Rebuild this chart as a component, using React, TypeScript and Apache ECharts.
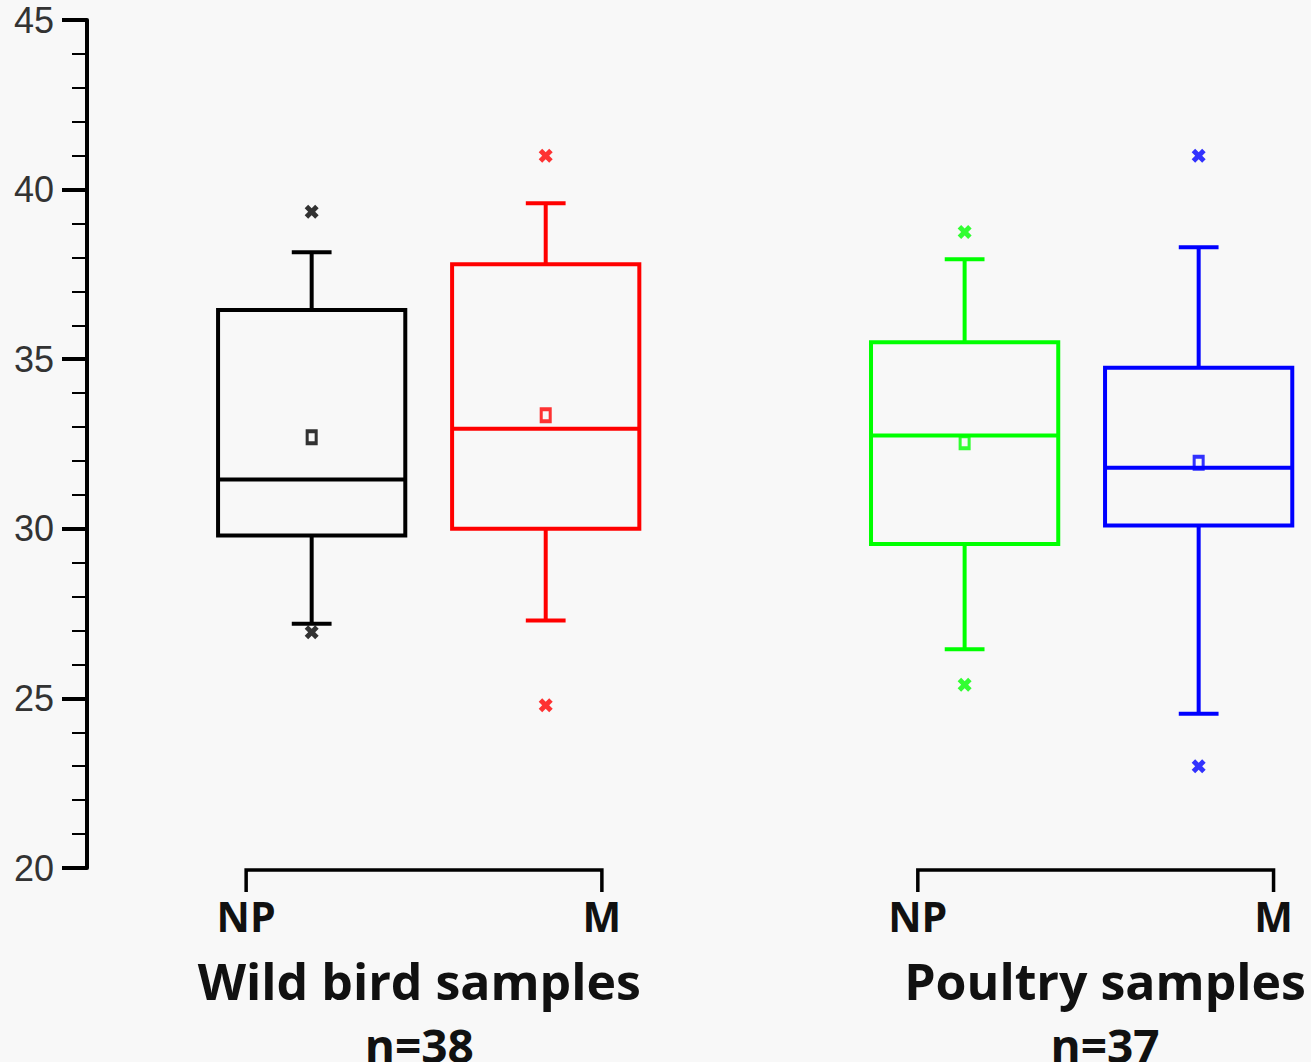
import React, { useEffect, useRef } from "react";
import * as echarts from "echarts";

// ---------- data ----------
const groupTitles = ["Wild bird samples", "Poultry samples"];
const groupN = ["n=38", "n=37"];
const subLabels = ["NP", "M"];
const boxNames = ["Wild NP", "Wild M", "Poultry NP", "Poultry M"];
const boxPositions = [1, 2, 3.79, 4.79];
const boxColors = ["#000000", "#ff0000", "#00ff00", "#0000ff"];
// [lower whisker, Q1, median, Q3, upper whisker]
const boxStats = [
  [27.2, 29.8, 31.45, 36.45, 38.15],
  [27.3, 30.0, 32.95, 37.8, 39.6],
  [26.45, 29.55, 32.75, 35.5, 37.95],
  [24.55, 30.1, 31.8, 34.75, 38.3],
];
const means = [32.7, 33.35, 32.55, 31.95];
const outliersHigh = [39.35, 41.0, 38.75, 41.0];
const outliersLow = [26.95, 24.8, 25.4, 23.0];
const bracketStart = [0.72, 3.59];
const bracketEnd = [2.24, 5.11];
const groupLabelPos = [1.46, 4.39];
const yMin = 20;
const yMax = 45;
const yInterval = 5;

// ---------- style constants ----------
const BOX_WIDTH = 0.8;
const CAP_WIDTH = 0.17;
const LABEL_FONT = "'Open Sans', 'Noto Sans', sans-serif";
const X_PATH =
  "path://M0,3 L3,0 L6,3 L9,0 L12,3 L9,6 L12,9 L9,12 L6,9 L3,12 L0,9 L3,6 Z";

export default function App() {
  const ref = useRef<HTMLDivElement>(null);

  useEffect(() => {
    document.body.style.margin = "0";
    document.body.style.background = "#f8f8f8";
    const chart = echarts.init(ref.current!, null, { renderer: "svg" });

    const boxData = boxStats.map((s, i) => ({
      name: boxNames[i],
      value: [boxPositions[i], ...s],
    }));
    const meanData = means.map((m, i) => ({
      value: [boxPositions[i], m],
      itemStyle: { color: "rgba(0,0,0,0)", borderColor: boxColors[i], borderWidth: 3.5 },
    }));
    const outlierData = [
      ...outliersHigh.map((v, i) => ({ value: [boxPositions[i], v], itemStyle: { color: boxColors[i] } })),
      ...outliersLow.map((v, i) => ({ value: [boxPositions[i], v], itemStyle: { color: boxColors[i] } })),
    ];
    const bracketData = bracketStart.map((s, i) => ({
      value: [s, bracketEnd[i], groupLabelPos[i], i],
    }));

    const option: any = {
      animation: false,
      backgroundColor: "#f8f8f8",
      grid: { left: 87, right: 0, top: 20, bottom: 194, containLabel: false },
      xAxis: { type: "value", min: 0.04, max: 5.27, show: false },
      yAxis: {
        type: "value",
        min: yMin,
        max: yMax,
        interval: yInterval,
        axisLine: { show: true, lineStyle: { color: "#000", width: 4 } },
        axisTick: { show: true, length: 25, lineStyle: { color: "#000", width: 4 } },
        minorTick: { show: true, splitNumber: 5, length: 15, lineStyle: { color: "#000", width: 2 } },
        splitLine: { show: false },
        minorSplitLine: { show: false },
        axisLabel: {
          margin: 33,
          fontSize: 36,
          color: "#333",
          fontFamily: "'Liberation Sans', Arial, sans-serif",
        },
      },
      series: [
        {
          type: "custom",
          name: "boxes",
          data: boxData,
          z: 2,
          renderItem: (params: any, api: any) => {
            const x = api.value(0);
            const lo = api.coord([x, api.value(1)]);
            const q1 = api.coord([x, api.value(2)]);
            const med = api.coord([x, api.value(3)]);
            const q3 = api.coord([x, api.value(4)]);
            const hi = api.coord([x, api.value(5)]);
            const cx = lo[0];
            const halfW = api.size([BOX_WIDTH, 0])[0] / 2;
            const capHalf = api.size([CAP_WIDTH, 0])[0] / 2;
            const style = { stroke: boxColors[params.dataIndex], lineWidth: 4, fill: "none" };
            return {
              type: "group",
              children: [
                { type: "rect", shape: { x: cx - halfW, y: q3[1], width: 2 * halfW, height: q1[1] - q3[1] }, style },
                { type: "line", shape: { x1: cx - halfW, y1: med[1], x2: cx + halfW, y2: med[1] }, style },
                { type: "line", shape: { x1: cx, y1: q3[1], x2: cx, y2: hi[1] }, style },
                { type: "line", shape: { x1: cx, y1: q1[1], x2: cx, y2: lo[1] }, style },
                { type: "line", shape: { x1: cx - capHalf, y1: hi[1], x2: cx + capHalf, y2: hi[1] }, style },
                { type: "line", shape: { x1: cx - capHalf, y1: lo[1], x2: cx + capHalf, y2: lo[1] }, style },
              ],
            };
          },
        },
        {
          type: "scatter",
          name: "mean",
          data: meanData,
          symbol: "rect",
          symbolSize: [9, 12],
          z: 4,
        },
        {
          type: "scatter",
          name: "outliers",
          data: outlierData,
          symbol: X_PATH,
          symbolSize: 14,
          z: 4,
        },
        {
          type: "custom",
          name: "brackets",
          data: bracketData,
          renderItem: (params: any, api: any) => {
            const p0 = api.coord([api.value(0), yMin]);
            const p1 = api.coord([api.value(1), yMin]);
            const pc = api.coord([api.value(2), yMin]);
            const gi = api.value(3);
            const y0 = p0[1] + 2;
            const textStyle = (txt: string, size: number) => ({
              text: txt,
              fontSize: size,
              fontWeight: "bold",
              fontFamily: LABEL_FONT,
              fill: "#111",
              align: "center",
              verticalAlign: "middle",
            });
            return {
              type: "group",
              children: [
                {
                  type: "polyline",
                  shape: { points: [[p0[0], y0 + 22], [p0[0], y0], [p1[0], y0], [p1[0], y0 + 22]] },
                  style: { stroke: "#000", lineWidth: 3.5, fill: "none" },
                },
                { type: "text", x: p0[0], y: y0 + 46, style: textStyle(subLabels[0], 41) },
                { type: "text", x: p1[0], y: y0 + 46, style: textStyle(subLabels[1], 41) },
                { type: "text", x: pc[0], y: y0 + 111, style: textStyle(groupTitles[gi], 50) },
                { type: "text", x: pc[0], y: y0 + 175, style: textStyle(groupN[gi], 46) },
              ],
            };
          },
        },
      ],
    };

    chart.setOption(option);
    return () => chart.dispose();
  }, []);

  return <div ref={ref} style={{ width: 1311, height: 1062 }} />;
}
